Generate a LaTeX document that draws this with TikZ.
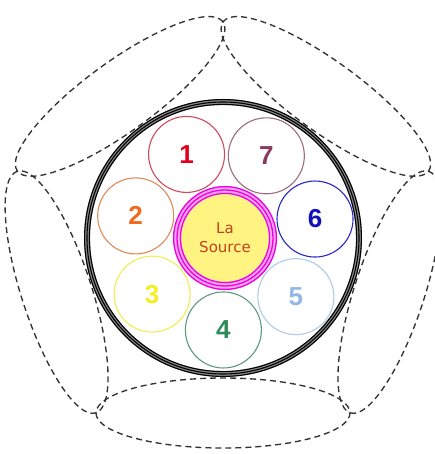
\documentclass[tikz,border=0pt]{standalone}
\usepackage{fontspec}
\setmainfont{DejaVu Sans}
\newfontfamily\numfont{Liberation Sans}
\definecolor{petalgray}{HTML}{333333}
\definecolor{ringgray}{HTML}{8A8A8A}
\definecolor{srcyellow}{HTML}{FFF482}
\definecolor{srctext}{HTML}{C4421E}
\definecolor{srcpink}{HTML}{F7A8F0}
\definecolor{srcmagenta}{HTML}{F000E8}
\definecolor{oneT}{HTML}{E0001E}
\definecolor{oneL}{HTML}{D04A5A}
\definecolor{twoT}{HTML}{F26A1E}
\definecolor{twoL}{HTML}{E08A5A}
\definecolor{threeT}{HTML}{F2F020}
\definecolor{threeL}{HTML}{F0EE50}
\definecolor{fourT}{HTML}{2E8B5A}
\definecolor{fourL}{HTML}{5E9A80}
\definecolor{fiveT}{HTML}{94B8E6}
\definecolor{fiveL}{HTML}{AECCEA}
\definecolor{sixT}{HTML}{1010C0}
\definecolor{sixL}{HTML}{2828C8}
\definecolor{sevenT}{HTML}{8A3A62}
\definecolor{sevenL}{HTML}{A06A82}
\usetikzlibrary{positioning}

\begin{document}
\begin{tikzpicture}[x=1pt,y=1pt,
  petal/.style={draw=petalgray,line width=1.35pt,dash pattern=on 6pt off 4pt},
  blackline/.style={draw=black,line width=1.1pt},
  pinkline/.style={draw=srcmagenta,line width=1.3pt},
  smallc/.style={circle,minimum size=76pt,inner sep=0pt,line width=1.1pt,
    font=\numfont\bfseries\fontsize{26}{26}\selectfont},
  srcnode/.style={circle,minimum size=88pt,inner sep=0pt,fill=srcyellow,
    text=srctext,align=center,font=\fontsize{15}{19}\selectfont}]
  \useasboundingbox (-223,-216) rectangle (211,238);
  % dashed petals round the ring
  \foreach \a in {54,126,198,270,342}
    \draw[petal,shift={(\a:175)},rotate=\a-90] (0,0) ellipse (127pt and 35pt);
  % the big ring
  \fill[white] (0,0) circle (139pt);
  \draw[ringgray,line width=6pt] (0,0) circle (136pt);
  \draw[blackline] (0,0) circle (138.4pt);
  \draw[blackline] (0,0) circle (136pt);
  \draw[blackline] (0,0) circle (133.6pt);
  % the seven circles
  \foreach \n/\a/\tc/\lc in {4/269/fourT/fourL,3/217.6/threeT/threeL,2/166.1/twoT/twoL,
      1/114.7/oneT/oneL,7/63.3/sevenT/sevenL,6/11.9/sixT/sixL,5/320.4/fiveT/fiveL}
    \node[smallc,draw=\lc,text=\tc] (n\n) at ([xshift=2]\a:92) {\n};
  % the source
  \node[srcnode] (src) at (2,0) {La\\Source};
  \draw[srcpink,line width=8pt] (src) circle (48pt);
  \draw[pinkline] (src) circle (44.6pt);
  \draw[pinkline] (src) circle (48pt);
  \draw[pinkline] (src) circle (51.4pt);
\end{tikzpicture}
\end{document}
